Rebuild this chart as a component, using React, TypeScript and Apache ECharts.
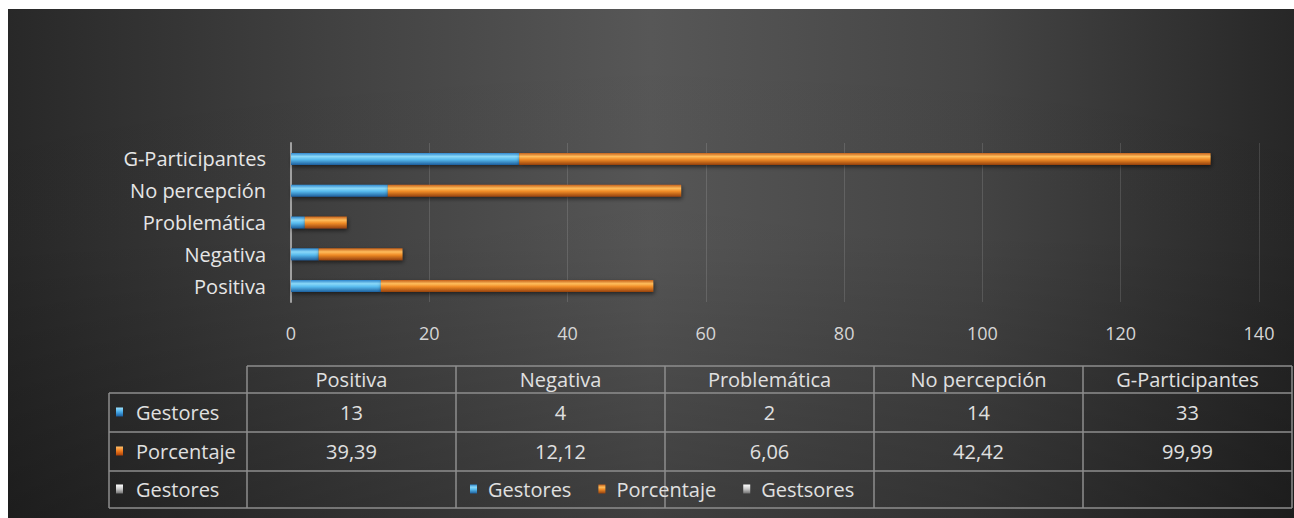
import React, { useEffect, useRef } from "react";
import * as echarts from "echarts";

const categories = ["Positiva", "Negativa", "Problemática", "No percepción", "G-Participantes"];
const gestores = [13, 4, 2, 14, 33];
const porcentaje = [39.39, 12.12, 6.06, 42.42, 99.99];
const seriesNames = ["Gestores", "Porcentaje", "Gestsores"];
const rowLabels = ["Gestores", "Porcentaje", "Gestores"];
const axisMin = 0;
const axisMax = 140;
const axisInterval = 20;

const FONT = "Open Sans";

const grad = (stops: [number, string][]) =>
  new echarts.graphic.LinearGradient(0, 0, 0, 1, stops.map(([offset, color]) => ({ offset, color })));

const blueBar = () =>
  grad([[0, "#2f86cc"], [0.3, "#8ad8f8"], [0.55, "#58bbee"], [1, "#1d5e9c"]]);
const orangeBar = () =>
  grad([[0, "#c4601a"], [0.3, "#ffbd5c"], [0.55, "#f08c26"], [1, "#94410e"]]);
const blueKey = () => grad([[0, "#9be2ff"], [0.5, "#45a8e6"], [1, "#1a5c9e"]]);
const orangeKey = () => grad([[0, "#ffc06a"], [0.5, "#f07a1c"], [1, "#a8400a"]]);
const grayKey = () => grad([[0, "#ffffff"], [0.5, "#c8c8c8"], [1, "#707070"]]);

const fmt = (v: number, dec: number) => (dec ? v.toFixed(dec).replace(".", ",") : String(v));

export default function App() {
  const ref = useRef<HTMLDivElement>(null);

  useEffect(() => {
    if (!ref.current) return;
    const chart = echarts.init(ref.current, undefined, { renderer: "svg" });

    // table geometry
    const labelLeft = 101;
    const colLeft = 239;
    const colW = 209;
    const tableRight = colLeft + colW * categories.length;
    const headerTop = 357;
    const rowTops = [384, 423, 462, 499];
    const lineStyle = { stroke: "#8e8e8e", lineWidth: 1.5 };
    const textFill = "#e0e0e0";
    const fontSize = 20;

    const g: any[] = [];
    g.push({
      type: "rect",
      shape: { x: 0, y: 0, width: 1286, height: 509 },
      style: {
        fill: new echarts.graphic.LinearGradient(0, 0, 0, 1, [
          { offset: 0, color: "rgba(0,0,0,0)" },
          { offset: 0.45, color: "rgba(0,0,0,0.02)" },
          { offset: 1, color: "rgba(0,0,0,0.28)" },
        ]),
      },
      silent: true,
      z: -10,
    });
    g.push({ type: "line", shape: { x1: colLeft, y1: headerTop, x2: tableRight, y2: headerTop }, style: lineStyle });
    rowTops.forEach((y) => {
      g.push({ type: "line", shape: { x1: labelLeft, y1: y, x2: tableRight, y2: y }, style: lineStyle });
    });
    g.push({ type: "line", shape: { x1: labelLeft, y1: rowTops[0], x2: labelLeft, y2: rowTops[3] }, style: lineStyle });
    for (let i = 0; i <= categories.length; i++) {
      const x = colLeft + colW * i;
      g.push({ type: "line", shape: { x1: x, y1: headerTop, x2: x, y2: rowTops[3] }, style: lineStyle });
    }
    categories.forEach((c, i) => {
      g.push({
        type: "text",
        x: colLeft + colW * (i + 0.5),
        y: (headerTop + rowTops[0]) / 2,
        style: { text: c, fill: textFill, fontSize, fontFamily: FONT, align: "center", verticalAlign: "middle" },
      });
    });
    const keys = [blueKey(), orangeKey(), grayKey()];
    rowLabels.forEach((lab, r) => {
      const cy = (rowTops[r] + rowTops[r + 1]) / 2;
      g.push({ type: "rect", shape: { x: 108, y: cy - 5, width: 7, height: 9 }, style: { fill: keys[r] } });
      g.push({
        type: "text",
        x: 128,
        y: cy,
        style: { text: lab, fill: textFill, fontSize, fontFamily: FONT, align: "left", verticalAlign: "middle" },
      });
    });
    const rows = [gestores.map((v) => fmt(v, 0)), porcentaje.map((v) => fmt(v, 2))];
    rows.forEach((vals, r) => {
      const cy = (rowTops[r] + rowTops[r + 1]) / 2;
      vals.forEach((t, i) => {
        g.push({
          type: "text",
          x: colLeft + colW * (i + 0.5),
          y: cy,
          style: { text: t, fill: textFill, fontSize, fontFamily: FONT, align: "center", verticalAlign: "middle" },
        });
      });
    });

    const barShadow = { shadowBlur: 4, shadowColor: "rgba(0,0,0,0.55)", shadowOffsetY: 2, shadowOffsetX: 1 };

    chart.setOption({
      animation: false,
      backgroundColor: new echarts.graphic.LinearGradient(0, 0, 1, 0, [
        { offset: 0, color: "#282828" },
        { offset: 0.25, color: "#414141" },
        { offset: 0.5, color: "#575757" },
        { offset: 0.75, color: "#454545" },
        { offset: 1, color: "#272727" },
      ]),
      textStyle: { fontFamily: FONT },
      grid: { left: 283, top: 134, width: 968, height: 159, containLabel: false },
      legend: {
        data: seriesNames,
        left: 457,
        top: 465,
        itemWidth: 7,
        itemHeight: 9,
        itemGap: 27,
        icon: "rect",
        textStyle: { color: textFill, fontSize, fontFamily: FONT, padding: [0, 0, 0, 6] },
        selectedMode: false,
      },
      xAxis: {
        type: "value",
        min: axisMin,
        max: axisMax,
        interval: axisInterval,
        axisLine: { show: false },
        axisTick: { show: false },
        splitLine: { show: true, lineStyle: { color: "rgba(255,255,255,0.13)", width: 1 } },
        axisLabel: { color: "#d6d6d6", fontSize: 18, margin: 22, fontFamily: FONT },
      },
      yAxis: {
        type: "category",
        data: categories,
        axisLine: { show: true, lineStyle: { color: "#a0a0a0", width: 2 } },
        axisTick: { show: false },
        axisLabel: { color: "#e6e6e6", fontSize: 20, margin: 25, fontFamily: FONT },
      },
      series: [
        {
          name: seriesNames[0],
          type: "bar",
          stack: "total",
          data: gestores,
          barWidth: 12,
          itemStyle: { color: blueBar(), ...barShadow },
        },
        {
          name: seriesNames[1],
          type: "bar",
          stack: "total",
          data: porcentaje,
          barWidth: 12,
          itemStyle: { color: orangeBar(), ...barShadow },
        },
        {
          name: seriesNames[2],
          type: "bar",
          stack: "total",
          data: [],
          barWidth: 12,
          itemStyle: { color: grayKey() },
        },
      ],
      graphic: g,
    });

    return () => chart.dispose();
  }, []);

  return (
    <div
      ref={ref}
      style={{ position: "absolute", left: 8, top: 9, width: 1286, height: 509 }}
    />
  );
}
